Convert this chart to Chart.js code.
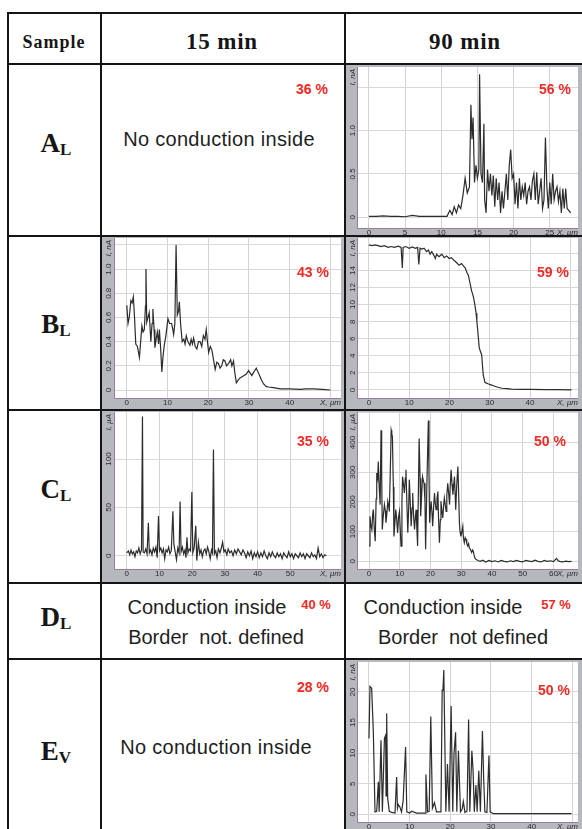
<!DOCTYPE html>
<html>
<head>
<meta charset="utf-8">
<script src="https://cdn.jsdelivr.net/npm/chart.js@4.4.0/dist/chart.umd.min.js"></script>
<style>
body { margin: 0; background: #fff; }
#page { position: relative; width: 582px; height: 829px; overflow: hidden; background: #fff; }
.ln { position: absolute; background: #141414; z-index: 3; }
.txt { position: absolute; white-space: nowrap; font-family: 'Liberation Sans', Arial, sans-serif; color: #1e1e1e; transform: translate(-50%, -50%); z-index: 4; }
.pct { position: absolute; white-space: nowrap; font: bold 14px 'Liberation Sans', Arial, sans-serif; color: #ee2b25; transform: translate(-50%, -50%); z-index: 4; }
.hd { position: absolute; white-space: nowrap; font-family: 'Liberation Serif', 'Times New Roman', serif; font-weight: bold; color: #161616; transform: translate(-50%, -50%); z-index: 4; }
.hd .sub { font-size: 17px; position: relative; top: 3px; }
canvas { position: absolute; z-index: 2; }
</style>
</head>
<body>
<div id="page">
  <div class="ln" style="left:7px;top:12px;width:575px;height:2px"></div>
  <div class="ln" style="left:7px;top:12px;width:2px;height:817px"></div>
  <div class="ln" style="left:100px;top:12px;width:2px;height:817px"></div>
  <div class="ln" style="left:344px;top:12px;width:2px;height:817px"></div>
  <div class="ln" style="left:7px;top:63px;width:575px;height:2px"></div>
  <div class="ln" style="left:7px;top:235px;width:575px;height:2px"></div>
  <div class="ln" style="left:7px;top:409px;width:575px;height:2px"></div>
  <div class="ln" style="left:7px;top:582px;width:575px;height:2px"></div>
  <div class="ln" style="left:7px;top:658px;width:575px;height:2px"></div>

  <div class="hd" style="left:54px;top:42px;font-size:18px;letter-spacing:1px">Sample</div>
  <div class="hd" style="left:222px;top:42px;font-size:23px;letter-spacing:0.8px">15 min</div>
  <div class="hd" style="left:465px;top:42px;font-size:23px;letter-spacing:0.8px">90 min</div>

  <div class="hd" style="left:56px;top:143px;font-size:27px">A<span class="sub">L</span></div>
  <div class="hd" style="left:56px;top:324px;font-size:27px">B<span class="sub">L</span></div>
  <div class="hd" style="left:56px;top:489px;font-size:27px">C<span class="sub">L</span></div>
  <div class="hd" style="left:56px;top:617px;font-size:27px">D<span class="sub">L</span></div>
  <div class="hd" style="left:56px;top:751px;font-size:27px">E<span class="sub">V</span></div>

  <div class="txt" style="left:219px;top:139px;font-size:20px;letter-spacing:0.3px">No conduction inside</div>
  <div class="txt" style="left:207px;top:607px;font-size:20px">Conduction inside</div>
  <div class="txt" style="left:216px;top:637px;font-size:20px">Border&nbsp; not. defined</div>
  <div class="txt" style="left:443px;top:607px;font-size:20px">Conduction inside</div>
  <div class="txt" style="left:463px;top:637px;font-size:20px">Border&nbsp; not defined</div>
  <div class="txt" style="left:216px;top:747px;font-size:20px;letter-spacing:0.3px">No conduction inside</div>

  <div class="pct" style="left:312px;top:89px">36 %</div>
  <div class="pct" style="left:555px;top:89px">56 %</div>
  <div class="pct" style="left:313px;top:272px">43 %</div>
  <div class="pct" style="left:553px;top:272px">59 %</div>
  <div class="pct" style="left:313px;top:441px">35 %</div>
  <div class="pct" style="left:550px;top:441px">50 %</div>
  <div class="pct" style="left:316px;top:604px;font-size:13px">40 %</div>
  <div class="pct" style="left:556px;top:604px;font-size:13px">57 %</div>
  <div class="pct" style="left:313px;top:687px">28 %</div>
  <div class="pct" style="left:554px;top:690px">50 %</div>
</div>
<script>
// current profiles, [x µm, I]
var aL90 = [[0,0.01],[1,0.01],[2,0.015],[3,0.01],[4,0.01],[5,0.005],[6,0.02],[7,0.01],[8,0.01],[9,0.01],[10,0.01],[10.8,0.01],[11.2,0.08],[11.5,0.03],[11.8,0.12],[12.1,0.05],[12.4,0.14],[12.7,0.1],[13,0.25],[13.3,0.45],[13.6,0.28],[13.9,0.35],[14.1,1.3],[14.25,0.9],[14.4,1.15],[14.6,0.4],[14.8,0.6],[15,0.45],[15.2,0.55],[15.3,1.65],[15.5,0.5],[15.7,0.4],[15.9,1.08],[16,0.2],[16.2,0.05],[16.4,0.55],[16.6,0.3],[16.8,0.5],[17,0.25],[17.2,0.48],[17.4,0.12],[17.6,0.45],[17.8,0.2],[18,0.4],[18.2,0.05],[18.4,0.3],[18.6,0.1],[18.8,0.3],[19,0.5],[19.2,0.2],[19.4,0.6],[19.6,0.78],[19.8,0.45],[20,0.5],[20.2,0.15],[20.4,0.4],[20.6,0.1],[20.8,0.45],[21,0.2],[21.2,0.35],[21.4,0.25],[21.6,0.4],[21.8,0.15],[22,0.3],[22.2,0.35],[22.4,0.2],[22.6,0.42],[22.8,0.5],[23,0.2],[23.2,0.52],[23.4,0.15],[23.6,0.3],[23.8,0.45],[24,0.1],[24.2,0.2],[24.4,0.92],[24.6,0.35],[24.8,0.1],[25,0.4],[25.2,0.15],[25.4,0.5],[25.6,0.2],[25.8,0.3],[26,0.35],[26.2,0.18],[26.4,0.3],[26.6,0.05],[26.8,0.33],[27,0.1],[27.2,0.33],[27.4,0.1],[27.6,0.08],[27.9,0.05]];

var bL15 = [[0,0.7],[0.3,0.55],[0.6,0.6],[1.0,0.74],[1.3,0.72],[1.6,0.77],[1.9,0.6],[2.2,0.38],[2.6,0.36],[3.1,0.27],[3.4,0.4],[3.7,0.53],[4.0,0.48],[4.3,0.5],[4.6,0.7],[4.7,1.0],[4.9,0.56],[5.2,0.6],[5.5,0.64],[5.9,0.4],[6.2,0.55],[6.4,0.67],[6.7,0.5],[6.9,0.35],[7.2,0.42],[7.5,0.48],[7.8,0.38],[8.0,0.5],[8.3,0.35],[8.6,0.15],[8.9,0.28],[9.2,0.37],[9.6,0.45],[10.1,0.59],[10.5,0.55],[11.0,0.55],[11.3,0.5],[11.5,0.46],[11.8,0.55],[12.1,1.2],[12.4,0.62],[12.7,0.65],[12.9,0.73],[13.2,0.55],[13.6,0.4],[14.0,0.42],[14.3,0.38],[14.6,0.45],[15.0,0.4],[15.5,0.37],[15.8,0.42],[16.1,0.38],[16.4,0.43],[16.8,0.36],[17.2,0.34],[17.6,0.4],[18.0,0.4],[18.4,0.36],[18.8,0.45],[19.2,0.42],[19.5,0.5],[19.8,0.4],[20.1,0.31],[20.5,0.36],[20.9,0.33],[21.3,0.25],[21.7,0.17],[22.1,0.23],[22.5,0.22],[22.9,0.18],[23.3,0.2],[23.7,0.25],[24.1,0.24],[24.5,0.2],[25.0,0.22],[25.5,0.25],[25.8,0.2],[26.2,0.24],[26.5,0.15],[26.9,0.06],[27.3,0.08],[27.8,0.1],[28.3,0.11],[28.8,0.12],[29.3,0.13],[29.9,0.16],[30.3,0.14],[30.7,0.12],[31.2,0.15],[31.8,0.18],[32.2,0.15],[32.6,0.12],[33.1,0.08],[33.6,0.05],[34.2,0.03],[34.8,0.025],[36,0.02],[37.7,0.01],[40,0.01],[42.6,0.005],[44,0.01],[45.9,0.01],[48,0.005],[50,0]];

var bL90 = [[0,17.0],[0.8,16.9],[1.5,17.0],[2.3,16.9],[3.0,16.8],[3.8,16.9],[4.8,16.7],[5.5,16.8],[6.3,16.7],[7.3,16.85],[8.0,16.7],[8.3,14.3],[8.5,16.7],[9.2,16.8],[10,16.6],[10.8,16.75],[11.5,16.6],[12.1,16.7],[12.4,14.7],[12.7,16.6],[13.2,16.5],[13.7,16.6],[14.3,16.2],[14.8,16.4],[15.2,15.9],[15.6,16.2],[16.1,15.8],[16.5,15.4],[16.8,15.9],[17.4,15.6],[18.1,15.9],[18.7,15.5],[19.3,15.7],[19.9,15.4],[20.5,15.5],[21.1,15.2],[21.8,14.9],[22.4,14.6],[23.0,14.8],[23.5,14.5],[23.9,14.3],[24.3,13.8],[24.7,13.4],[25.1,12.5],[25.5,11.6],[25.9,11.0],[26.3,10.0],[26.6,9.0],[26.8,8.1],[27.1,6.5],[27.4,4.9],[27.7,4.5],[28.0,4.1],[28.2,2.8],[28.4,1.7],[28.8,0.9],[29.2,0.8],[29.7,0.7],[30.3,0.6],[30.9,0.5],[31.8,0.35],[33.0,0.2],[34.2,0.15],[35.4,0.1],[38,0.08],[40,0.06],[43.7,0.05],[47,0.03],[50.3,0.02]];

var cL15 = [[0,3],[0.5,5],[0.9,1],[1.3,6],[1.7,2],[2.1,4],[2.5,-1],[2.9,5],[3.3,3],[3.7,8],[4.1,2],[4.5,6],[4.8,144],[5.0,4],[5.4,3],[5.8,7],[6.2,2],[6.6,34],[6.9,3],[7.3,6],[7.7,1],[8.1,8],[8.5,4],[8.9,9],[9.3,-2],[9.7,41],[10.0,5],[10.4,8],[10.8,3],[11.2,7],[11.6,-3],[12,6],[12.4,4],[12.8,9],[13.2,2],[13.6,5],[14.1,46],[14.4,12],[14.8,4],[15.2,-4],[15.6,8],[16.0,3],[16.3,56],[16.6,4],[17.0,9],[17.4,2],[17.8,6],[18.1,-2],[18.4,19],[18.7,3],[19.1,7],[19.5,5],[19.9,66],[20.2,3],[20.6,8],[21.1,31],[21.4,-5],[21.9,14],[22.3,2],[22.7,6],[23.1,-1],[23.5,5],[23.9,7],[24.3,2],[24.7,9],[25.1,4],[25.5,-3],[25.9,6],[26.2,3],[26.5,110],[26.8,2],[27.2,5],[27.6,-2],[28,7],[28.5,3],[28.9,8],[29.3,14],[29.7,4],[30.1,6],[30.6,1],[31.0,7],[31.5,3],[32,5],[32.5,0],[33,6],[33.5,2],[34,7],[34.5,4],[35,1],[35.5,6],[36,3],[36.5,-2],[37,4],[37.5,0],[38,5],[38.5,-3],[39,3],[39.5,-1],[40,4],[40.5,-2],[41,3],[41.5,-1],[42,5],[42.5,0],[43,-3],[43.5,3],[44,-1],[44.5,4],[45,0],[45.5,-2],[46,3],[46.5,-1],[47,2],[47.5,-3],[48,3],[48.5,0],[49,-2],[49.5,4],[50,-1],[50.5,2],[51,-3],[51.5,2],[52,0],[52.5,-2],[53,3],[53.5,-1],[54,2],[54.5,-3],[55,2],[55.5,0],[56,-2],[56.5,3],[57,-1],[57.5,1],[58,-3],[58.5,8],[59,-1],[59.5,2],[60,-2],[60.5,1],[61,0]];

var cL90 = [[0,52],[0.3,152],[0.6,120],[0.9,107],[1.2,160],[1.4,174],[1.7,110],[2.0,68],[2.3,210],[2.5,297],[2.8,280],[3.0,336],[3.3,250],[3.6,191],[3.9,441],[4.1,300],[4.3,107],[4.6,150],[5.0,191],[5.3,170],[5.5,130],[5.8,160],[6.1,202],[6.4,185],[6.6,168],[6.9,300],[7.2,441],[7.4,430],[7.6,419],[7.9,250],[8.1,84],[8.4,130],[8.7,174],[9.0,140],[9.3,96],[9.6,150],[9.9,168],[10.1,120],[10.4,51],[10.7,200],[10.9,285],[11.2,260],[11.5,230],[11.8,280],[12.0,308],[12.3,200],[12.6,96],[12.9,180],[13.1,275],[13.4,200],[13.7,118],[14.0,180],[14.2,230],[14.5,150],[14.8,107],[15.0,140],[15.3,174],[15.6,100],[15.8,52],[16.0,200],[16.3,413],[16.6,280],[16.8,152],[17.1,220],[17.4,285],[17.7,270],[17.9,263],[18.2,200],[18.4,41],[18.8,250],[19.3,474],[19.5,300],[19.7,130],[20.0,180],[20.2,202],[20.5,160],[20.7,118],[21.0,180],[21.3,230],[21.5,200],[21.8,174],[22.1,210],[22.4,235],[22.6,150],[22.9,63],[23.2,140],[23.4,202],[23.7,170],[24.0,146],[24.2,180],[24.5,213],[24.8,190],[25.1,168],[25.3,220],[25.6,263],[25.9,230],[26.2,191],[26.4,250],[26.7,308],[27.0,260],[27.3,224],[27.5,250],[27.8,285],[28.0,230],[28.2,174],[28.5,250],[28.9,319],[29.1,250],[29.4,130],[29.6,100],[29.9,84],[30.2,100],[30.5,118],[30.7,80],[31.0,63],[31.3,80],[31.6,74],[31.8,60],[32.1,52],[32.4,60],[32.6,46],[33.0,40],[33.4,30],[33.7,38],[33.9,35],[34.2,20],[34.5,10],[35.0,5],[35.6,2],[36.2,0],[37,4],[38,-2],[39,3],[40,-1],[41,2],[42,-2],[43,3],[44,0],[45,-2],[46,2],[47,-1],[48,3],[49,0],[50,-2],[51,3],[52,1],[53,-1],[54,4],[55,0],[56,-2],[57,3],[58,0],[59,2],[60,-1],[61,10],[61.5,3],[62,0],[63,-2],[64,1],[65,-1],[65.9,0]];

var eV90 = [[0,12.4],[0.25,20.9],[0.66,20.6],[1.07,13.5],[1.48,0.4],[1.9,0.5],[2.3,5.3],[2.5,0.4],[2.95,12.1],[3.3,0.4],[3.8,12.4],[4.1,12.9],[4.2,3],[4.35,16.5],[4.6,2.6],[5.0,0.5],[5.6,0.3],[6.4,0.2],[6.8,6.1],[7.0,1.0],[7.2,1.6],[7.6,1.2],[8.0,0.4],[8.4,2.2],[9.0,11.0],[9.3,0.4],[10,0.2],[10.5,0.5],[11.7,0.2],[13.0,0.2],[13.8,0.2],[14.0,6.5],[14.4,0.4],[14.8,0.5],[15.2,16.0],[15.6,1.0],[16.1,1.9],[16.6,0.4],[17.5,0.4],[17.7,0.6],[18.0,20.3],[18.2,20.5],[18.4,23.6],[18.9,0.4],[19.3,8.2],[19.7,0.4],[20.2,17.7],[20.6,0.4],[20.9,9.8],[21.3,13.4],[21.6,0.4],[22.0,10.4],[22.5,0.4],[22.9,0.8],[23.2,2.1],[23.6,0.3],[24.1,0.5],[24.5,15.5],[24.8,0.4],[25.3,10.4],[25.6,7.1],[25.9,0.4],[26.3,4.8],[26.6,0.4],[27.0,7.1],[27.4,0.4],[27.9,13.6],[28.2,5.9],[28.5,0.4],[29.0,0.3],[29.5,9.6],[29.8,0.4],[30.6,0.1],[35,0.1],[40,0.1],[49.8,0.1]];

// tick labels per chart
var aL90XTicks = [0, 5, 10, 15, 20, 25];
var aL90YTicks = ['0', '0.5', '1.0'];
var bL15XTicks = [0, 10, 20, 30, 40];
var bL15YTicks = ['0', '0.2', '0.4', '0.6', '0.8', '1.0'];
var bL90XTicks = [0, 10, 20, 30, 40];
var bL90YTicks = ['0', '2', '4', '6', '8', '10', '12', '14'];
var cL15XTicks = [0, 10, 20, 30, 40, 50];
var cL15YTicks = ['0', '50', '100'];
var cL90XTicks = [0, 10, 20, 30, 40, 50, 60];
var cL90YTicks = ['0', '100', '200', '300', '400'];
var eV90XTicks = [0, 10, 20, 30, 40];
var eV90YTicks = ['0', '5', '10', '15', '20'];

var framePlugin = {
  id: 'frame',
  beforeDraw: function (chart) {
    var ctx = chart.ctx, a = chart.chartArea;
    ctx.save();
    ctx.fillStyle = '#b7b7be';
    ctx.fillRect(0, 0, chart.width, chart.height);
    ctx.fillStyle = '#ffffff';
    ctx.fillRect(a.left, a.top, a.right - a.left, a.bottom - a.top);
    ctx.restore();
  },
  afterDraw: function (chart) {
    var ctx = chart.ctx, a = chart.chartArea, o = chart.options.plugins.frame;
    var sx = chart.scales.x, sy = chart.scales.y;
    ctx.save();
    ctx.strokeStyle = '#9a7a9e';
    ctx.lineWidth = 1;
    ctx.beginPath();
    ctx.moveTo(a.left - 0.5, a.top);
    ctx.lineTo(a.left - 0.5, a.bottom + 0.5);
    ctx.lineTo(a.right, a.bottom + 0.5);
    ctx.stroke();

    ctx.fillStyle = '#2b2b2b';
    ctx.font = '8px "Liberation Sans", Arial, sans-serif';
    ctx.textAlign = 'center';
    ctx.textBaseline = 'middle';
    var xy = a.bottom + 5;
    o.xTicks.forEach(function (v) {
      ctx.fillText(String(v), sx.getPixelForValue(v), xy);
    });
    ctx.textAlign = 'right';
    ctx.font = 'italic 8px "Liberation Sans", Arial, sans-serif';
    ctx.fillText('X, µm', a.right, xy);

    ctx.font = '8px "Liberation Sans", Arial, sans-serif';
    ctx.textAlign = 'center';
    var yx = a.left / 2 + 0.5;
    o.yTicks.forEach(function (v) {
      ctx.save();
      ctx.translate(yx, sy.getPixelForValue(parseFloat(v)));
      ctx.rotate(-Math.PI / 2);
      ctx.fillText(v, 0, 0);
      ctx.restore();
    });
    ctx.save();
    ctx.translate(yx, a.top + 2);
    ctx.rotate(-Math.PI / 2);
    ctx.textAlign = 'right';
    ctx.font = 'italic 8px "Liberation Sans", Arial, sans-serif';
    ctx.fillText(o.unit, 0, 0);
    ctx.restore();
    ctx.restore();
  }
};

function profile(pts, box, c) {
  var cv = document.createElement('canvas');
  cv.width = box.w; cv.height = box.h;
  cv.style.left = box.x + 'px';
  cv.style.top = box.y + 'px';
  document.getElementById('page').appendChild(cv);
  return new Chart(cv, {
    type: 'line',
    data: {
      datasets: [{
        data: pts.map(function (p) { return { x: p[0], y: p[1] }; }),
        borderColor: '#2c2c2c',
        borderWidth: 1.2,
        pointRadius: 0,
        tension: 0
      }]
    },
    options: {
      responsive: false,
      animation: false,
      devicePixelRatio: 1,
      layout: { padding: { top: c.padTop, right: c.padRight, left: 0, bottom: 0 } },
      plugins: {
        legend: { display: false },
        tooltip: { enabled: false },
        frame: { xTicks: c.xTicks, yTicks: c.yTicks, unit: c.unit }
      },
      scales: {
        x: {
          type: 'linear', min: c.xMin, max: c.xMax,
          ticks: { display: false, stepSize: c.xStep, includeBounds: false },
          grid: { color: '#d4d4d8', drawTicks: false },
          border: { display: false },
          afterFit: function (s) { s.height = c.bottom; }
        },
        y: {
          min: c.yMin, max: c.yMax,
          ticks: { display: false, stepSize: c.yStep, includeBounds: false },
          grid: { color: '#dcd6da', drawTicks: false },
          border: { display: false },
          afterFit: function (s) { s.width = c.left; }
        }
      }
    },
    plugins: [framePlugin]
  });
}

profile(aL90, { x: 346, y: 65, w: 236, h: 170 },
  { left: 12, bottom: 7, padTop: 2, padRight: 4, xMin: -1.5, xMax: 28.9, xStep: 5, yMin: -0.125, yMax: 1.735, yStep: 0.5,
    xTicks: aL90XTicks, yTicks: aL90YTicks, unit: 'I, nA' });
profile(bL15, { x: 102, y: 237, w: 242, h: 172 },
  { left: 13, bottom: 11, padTop: 1, padRight: 3, xMin: -2.9, xMax: 52.6, xStep: 10, yMin: -0.066, yMax: 1.257, yStep: 0.2,
    xTicks: bL15XTicks, yTicks: bL15YTicks, unit: 'I, nA' });
profile(bL90, { x: 346, y: 237, w: 236, h: 172 },
  { left: 12, bottom: 11, padTop: 1, padRight: 4, xMin: -2.7, xMax: 51.9, xStep: 10, yMin: -0.94, yMax: 17.8, yStep: 2,
    xTicks: bL90XTicks, yTicks: bL90YTicks, unit: 'I, nA' });
profile(cL15, { x: 102, y: 411, w: 242, h: 171 },
  { left: 13, bottom: 13, padTop: 1, padRight: 3, xMin: -3.6, xMax: 65.5, xStep: 10, yMin: -13.7, yMax: 148.7, yStep: 50,
    xTicks: cL15XTicks, yTicks: cL15YTicks, unit: 'I, µA' });
profile(cL90, { x: 346, y: 411, w: 236, h: 171 },
  { left: 12, bottom: 13, padTop: 1, padRight: 4, xMin: -3.6, xMax: 68, xStep: 10, yMin: -25.7, yMax: 502.6, yStep: 100,
    xTicks: cL90XTicks, yTicks: cL90YTicks, unit: 'I, µA' });
profile(eV90, { x: 346, y: 660, w: 236, h: 169 },
  { left: 12, bottom: 7, padTop: 2, padRight: 4, xMin: -2.7, xMax: 51.4, xStep: 10, yMin: -1.26, yMax: 24.9, yStep: 5,
    xTicks: eV90XTicks, yTicks: eV90YTicks, unit: 'I, nA' });
</script>
</body>
</html>
